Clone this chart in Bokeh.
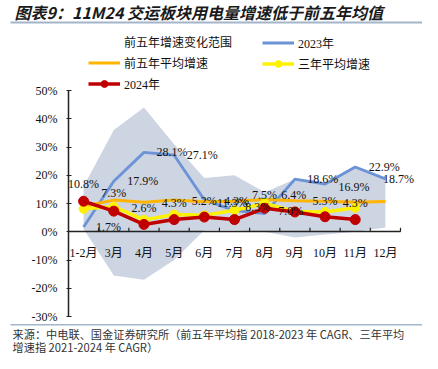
from bokeh.plotting import figure
from bokeh.models import (ColumnDataSource, Range1d, FixedTicker, PrintfTickFormatter,
                          Legend, LegendItem, Label, BoxAnnotation)
from bokeh.core.properties import value
from bokeh.embed import file_html
from bokeh.resources import INLINE

# ---------------- data ----------------
months = ["1-2月", "3月", "4月", "5月", "6月", "7月", "8月", "9月", "10月", "11月", "12月"]
band_low = [1.0, -15.5, -17.0, -10.0, 0.5, 0.5, 0.0, -2.0, -1.0, 0.0, 1.5]
band_high = [16.0, 36.0, 44.0, 31.0, 19.0, 20.0, 14.0, 18.6, 17.0, 22.9, 18.7]
y2023 = [1.7, 17.9, 28.1, 27.1, 11.3, 7.5, 6.4, 18.6, 16.9, 22.9, 18.7]
avg5 = [9.0, 11.2, 10.4, 11.2, 10.6, 10.8, 11.4, 11.0, 10.8, 10.4, 10.7]
avg3 = [8.1, 8.9, 4.2, 6.1, 5.8, 7.6, 10.0, 7.2, 7.0, 8.5]
y2024 = [10.8, 7.3, 2.6, 4.3, 5.2, 4.3, 8.3, 7.0, 5.3, 4.3]
y_ticks = [-30, -20, -10, 0, 10, 20, 30, 40, 50]

title_text = "图表9：11M24 交运板块用电量增速低于前五年均值"
source_line1 = "来源：中电联、国金证券研究所（前五年平均指 2018-2023 年 CAGR、三年平均"
source_line2 = "增速指 2021-2024 年 CAGR）"

# category positions on the axis (1 per month)
xpos = [i + 1 for i in range(len(months))]
xpos24 = xpos[:len(y2024)]

# label placement (screen pixels, not data)
off23_x = [25, 29, 28, 28, 28, 30, 29, 28, 29, 29, 13]
off23_y = [0, 0, 0, 0, 3, -16, -19, 0, 3, 0, 0]
off24_x = [0, 0, 0, 0, 0, 2, -7, -4, 0, 0]
off24_y = [-17, -18, -16, -17, -16, -19, -1, -1, -16, -17]

# ---------------- style / layout ----------------
BAND = "#CDD4E2"
BLUE = "#6B93D6"
ORANGE = "#FFB400"
YELLOW = "#FFF200"
RED = "#C00000"
RULE = "#A3B5C9"
AXIS = "#222222"
SERIF = "'Liberation Serif', 'Noto Sans CJK SC'"
CJK = "'Noto Sans CJK SC'"

W, H = 422, 353
plot_left, plot_right = 68, 400      # x pixels of the category span
plot_top, plot_bottom = 90, 316      # y pixels of 50% and -30%
ymin, ymax = -30, 50
ppx = (plot_right - plot_left) / len(months)
ppy = (plot_bottom - plot_top) / (ymax - ymin)
x0 = 0.5 - plot_left / ppx
y0 = ymin - (H - plot_bottom) / ppy

p = figure(width=W, height=H,
           x_range=Range1d(x0, x0 + W / ppx),
           y_range=Range1d(y0, y0 + H / ppy),
           output_backend="svg", toolbar_location=None, title=None,
           min_border=0)
p.outline_line_color = None
p.grid.visible = False
p.background_fill_color = "white"
p.border_fill_color = "white"

src = ColumnDataSource(dict(x=xpos, lo=band_low, hi=band_high, y23=y2023, a5=avg5))
src10 = ColumnDataSource(dict(x=xpos24, a3=avg3, y24=y2024))

band = p.varea(x="x", y1="lo", y2="hi", source=src, fill_color=BAND, fill_alpha=1)
band_key = p.line(x=[], y=[], line_width=6, line_color=BAND)

# category-boundary tick marks on the zero line (Excel style)
bounds = [v + 0.5 for v in xpos]
p.segment(x0=bounds, y0=[0] * len(bounds), x1=bounds, y1=[1.4] * len(bounds),
          line_color=AXIS, line_width=1.2)

l23 = p.line("x", "y23", source=src, line_width=2.8, line_color=BLUE)
l5 = p.line("x", "a5", source=src, line_width=3, line_color=ORANGE)
l3 = p.line("x", "a3", source=src10, line_width=3.5, line_color=YELLOW)
s3 = p.scatter("x", "a3", source=src10, size=9, fill_color=YELLOW, line_color=YELLOW)
l24 = p.line("x", "y24", source=src10, line_width=3.5, line_color=RED)
s24 = p.scatter("x", "y24", source=src10, size=10, fill_color=RED, line_color=RED)

lab23 = ColumnDataSource(dict(x=xpos, y=y2023, t=[f"{v:.1f}%" for v in y2023],
                              xo=off23_x, yo=off23_y))
lab24 = ColumnDataSource(dict(x=xpos24, y=y2024, t=[f"{v:.1f}%" for v in y2024],
                              xo=off24_x, yo=off24_y))
for s in (lab23, lab24):
    p.text(x="x", y="y", text="t", x_offset="xo", y_offset="yo", source=s,
           text_font=value("Liberation Serif"), text_font_size="12px",
           text_align="center", text_baseline="middle", text_color="#111111")

# ---------------- axes ----------------
yax = p.yaxis[0]
yax.fixed_location = 0.5
yax.bounds = (ymin, ymax)
yax.ticker = FixedTicker(ticks=y_ticks)
yax.formatter = PrintfTickFormatter(format="%d%%")
yax.major_label_text_font = SERIF
yax.major_label_text_font_size = "12px"
yax.major_label_text_color = "#111111"
yax.axis_line_width = 1.5
yax.axis_line_color = AXIS
yax.major_tick_line_color = AXIS
yax.major_tick_in = 3
yax.major_tick_out = 2
yax.minor_tick_line_color = None
yax.major_label_standoff = 9

xax = p.xaxis[0]
xax.fixed_location = 0
xax.bounds = (0.5, len(months) + 0.5)
xax.ticker = FixedTicker(ticks=xpos)
xax.major_label_overrides = dict(zip(xpos, months))
xax.axis_line_color = AXIS
xax.axis_line_width = 1.5
xax.major_tick_line_color = None
xax.minor_tick_line_color = None
xax.major_label_standoff = 8
xax.major_label_text_font = SERIF
xax.major_label_text_font_size = "12px"
xax.major_label_text_color = "#111111"

# ---------------- legends ----------------
leg_common = dict(orientation="vertical", padding=0, margin=0, spacing=3,
                  glyph_width=32, glyph_height=17, label_height=17, label_standoff=4,
                  label_text_font=SERIF, label_text_font_size="12px",
                  label_text_color="#111111",
                  border_line_alpha=0, background_fill_alpha=0)
leg_top = 35.5
leg1 = Legend(items=[LegendItem(label="前五年增速变化范围", renderers=[band_key]),
                     LegendItem(label="前五年平均增速", renderers=[l5]),
                     LegendItem(label="2024年", renderers=[l24, s24])],
              location=(88, H - leg_top - 57), **leg_common)
leg2 = Legend(items=[LegendItem(label="2023年", renderers=[l23]),
                     LegendItem(label="三年平均增速", renderers=[l3, s3])],
              location=(262, H - leg_top - 37), **leg_common)
p.add_layout(leg1)
p.add_layout(leg2)

# ---------------- title / source ----------------
p.add_layout(Label(x=14, y=H - 11, x_units="screen", y_units="screen", text=title_text,
                   text_font=CJK, text_font_size="16px", text_font_style="bold italic",
                   text_baseline="middle", text_align="left", text_color="#1a1a1a"))
p.add_layout(BoxAnnotation(left=10, right=W, top=H - 21, bottom=H - 23,
                           left_units="screen", right_units="screen",
                           top_units="screen", bottom_units="screen",
                           fill_color=RULE, fill_alpha=1, line_alpha=0))
p.add_layout(BoxAnnotation(left=10, right=W, top=H - 323.5, bottom=H - 325,
                           left_units="screen", right_units="screen",
                           top_units="screen", bottom_units="screen",
                           fill_color=RULE, fill_alpha=1, line_alpha=0))
for txt, yy in ((source_line1, 333.5), (source_line2, 346)):
    p.add_layout(Label(x=12, y=H - yy, x_units="screen", y_units="screen", text=txt,
                       text_font=CJK, text_font_size="11.2px", text_baseline="middle",
                       text_align="left", text_color="#333333"))

open("out.html", "w").write(file_html(p, INLINE))
